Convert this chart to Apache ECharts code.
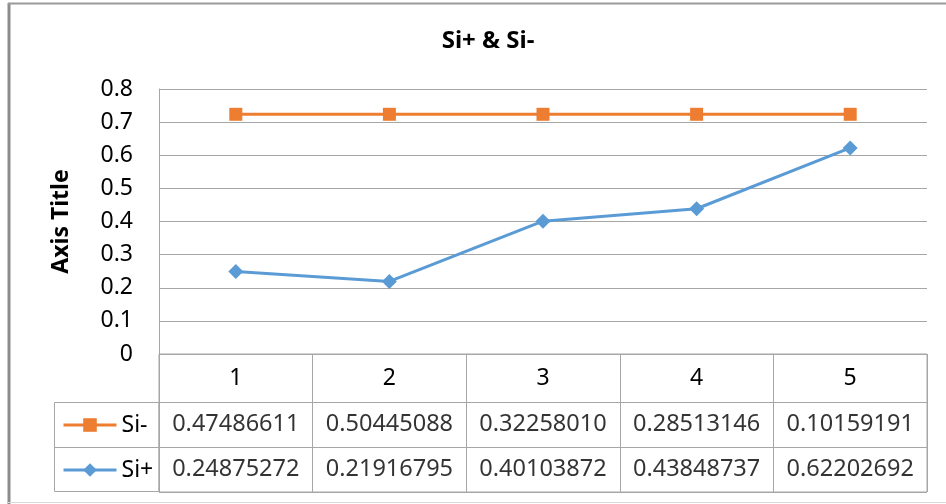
<!DOCTYPE html>
<html>
<head>
<meta charset="utf-8">
<script src="https://cdn.jsdelivr.net/npm/echarts@6/dist/echarts.min.js"></script>
<style>
html,body{margin:0;padding:0;background:#fff;}
#chart{width:946px;height:504px;}
</style>
</head>
<body>
<div id="chart"></div>
<script>
var categories = ['1', '2', '3', '4', '5'];
var siMinus = [0.47486611, 0.50445088, 0.32258010, 0.28513146, 0.10159191];
var siPlus = [0.24875272, 0.21916795, 0.40103872, 0.43848737, 0.62202692];
var yTicks = { min: 0, max: 0.8, interval: 0.1 };
var titleText = 'Si+ & Si-';
var yAxisTitle = 'Axis Title';

var FONT = '"Noto Sans", "Open Sans", sans-serif';
var GRID_COLOR = '#a6a6a6';
var ORANGE = '#ED7D31';
var BLUE = '#5B9BD5';

// table text drawn from the data arrays
var tableCells = [];
categories.forEach(function (c, i) {
  tableCells.push({ value: [i, 'Si-'], name: siMinus[i].toFixed(8) });
  tableCells.push({ value: [i, 'Si+'], name: siPlus[i].toFixed(8) });
});

function legendFor(name, centerY) {
  return {
    data: [name],
    orient: 'vertical',
    left: 62, top: centerY - 11, padding: 0,
    itemWidth: 53, itemHeight: 17,
    lineStyle: { width: 3 },
    textStyle: { fontFamily: FONT, fontSize: 23, lineHeight: 22, color: '#000' }
  };
}

var chart = echarts.init(document.getElementById('chart'), null, { renderer: 'canvas' });
chart.setOption({
  backgroundColor: '#fff',
  animation: false,
  textStyle: { fontFamily: FONT },
  title: {
    text: titleText,
    left: 483, top: 24, textAlign: 'center',
    textStyle: { fontFamily: FONT, fontWeight: 'bold', fontSize: 24, color: '#000' }
  },
  legend: [legendFor('Si-', 424.5), legendFor('Si+', 469.5)],
  grid: [
    { left: 159, top: 89, right: 19, height: 265, show: false },
    { left: 159, top: 354, right: 19, height: 138, show: true, borderColor: GRID_COLOR, borderWidth: 1, backgroundColor: 'transparent' },
    { left: 159, top: 402, right: 19, height: 90, show: false }
  ],
  xAxis: [
    {
      gridIndex: 0, type: 'category', data: categories, boundaryGap: true,
      axisLine: { show: false }, axisTick: { show: false },
      axisLabel: { show: true, margin: 13, fontFamily: FONT, fontSize: 23, color: '#000' },
      splitLine: { show: false }
    },
    {
      gridIndex: 1, type: 'category', data: categories, boundaryGap: true,
      axisLine: { show: false }, axisTick: { show: false }, axisLabel: { show: false },
      splitLine: { show: true, interval: 0, lineStyle: { color: GRID_COLOR, width: 1 } }
    },
    {
      gridIndex: 2, type: 'category', data: categories, boundaryGap: true,
      axisLine: { show: false }, axisTick: { show: false }, axisLabel: { show: false },
      splitLine: { show: false }
    }
  ],
  yAxis: [
    {
      gridIndex: 0, type: 'value', min: yTicks.min, max: yTicks.max, interval: yTicks.interval,
      name: yAxisTitle, nameLocation: 'middle', nameRotate: 90, nameGap: 86,
      nameTextStyle: { fontFamily: FONT, fontWeight: 'bold', fontSize: 23, color: '#000' },
      axisLine: { show: true, lineStyle: { color: GRID_COLOR, width: 1 } },
      axisTick: { show: false },
      axisLabel: {
        margin: 26, fontFamily: FONT, fontSize: 23, color: '#000',
        formatter: function (v) { return String(Math.round(v * 10) / 10); }
      },
      splitLine: { show: true, lineStyle: { color: GRID_COLOR, width: 1 } }
    },
    {
      gridIndex: 1, type: 'value', min: 0, max: 1, show: false
    },
    {
      gridIndex: 2, type: 'category', data: ['Si-', 'Si+'], inverse: true, boundaryGap: true,
      axisLine: { show: false }, axisTick: { show: false }, axisLabel: { show: false },
      splitLine: { show: true, interval: 0, lineStyle: { color: GRID_COLOR, width: 1 } }
    }
  ],
  series: [
    {
      name: 'Si+', type: 'line', stack: 'total', xAxisIndex: 0, yAxisIndex: 0,
      data: siPlus,
      symbol: 'diamond', symbolSize: 15,
      lineStyle: { color: BLUE, width: 3 },
      itemStyle: { color: BLUE }
    },
    {
      name: 'Si-', type: 'line', stack: 'total', xAxisIndex: 0, yAxisIndex: 0,
      data: siMinus,
      symbol: 'rect', symbolSize: 13,
      lineStyle: { color: ORANGE, width: 3 },
      itemStyle: { color: ORANGE }
    },
    {
      name: 'table', type: 'scatter', xAxisIndex: 2, yAxisIndex: 2,
      data: tableCells, symbolSize: 0, silent: true,
      label: {
        show: true, position: 'inside', formatter: '{b}',
        fontFamily: FONT, fontSize: 23.5, color: '#000'
      }
    }
  ],
  graphic: [
    {
      type: 'rect', z: 10,
      shape: { x: 54.5, y: 402.5, width: 104.5, height: 89 },
      style: { fill: 'none', stroke: GRID_COLOR, lineWidth: 1 }
    },
    {
      type: 'line', z: 10,
      shape: { x1: 54.5, y1: 447.5, x2: 159, y2: 447.5 },
      style: { stroke: GRID_COLOR, lineWidth: 1 }
    },
    {
      type: 'line', z: 10,
      shape: { x1: 9, y1: 3, x2: 9, y2: 504 },
      style: { stroke: '#8c8c8c', lineWidth: 3 }
    },
    {
      type: 'line', z: 10,
      shape: { x1: 8, y1: 3.5, x2: 946, y2: 3.5 },
      style: { stroke: '#9a9a9a', lineWidth: 2 }
    },
    {
      type: 'line', z: 10,
      shape: { x1: 8, y1: 502.5, x2: 946, y2: 502.5 },
      style: { stroke: '#d9d9d9', lineWidth: 1 }
    }
  ]
});
</script>
</body>
</html>
